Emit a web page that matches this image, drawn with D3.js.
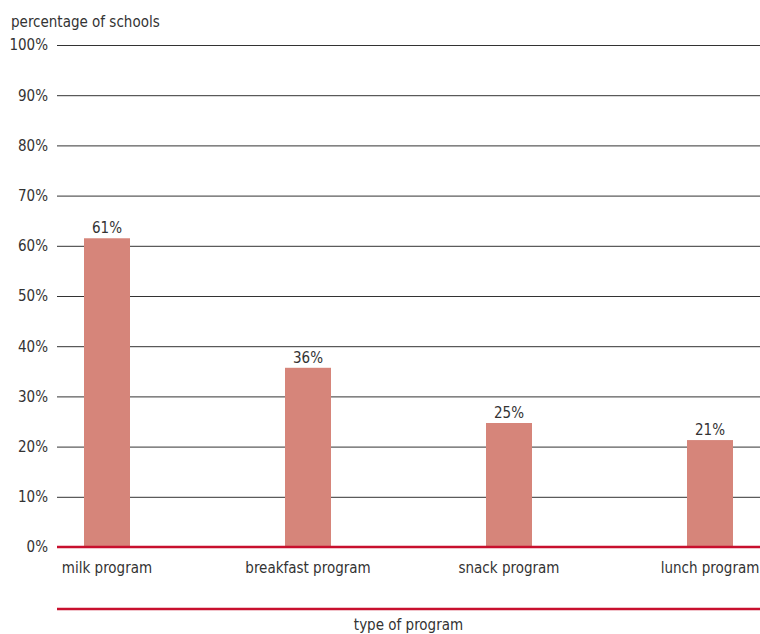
<!DOCTYPE html>
<html>
<head>
<meta charset="utf-8">
<script src="https://cdn.jsdelivr.net/npm/d3@7"></script>
<style>
  body { margin: 0; background: #fff; }
  text { font-family: 'DejaVu Sans Condensed', 'Liberation Sans Narrow', sans-serif; fill: #333; }
</style>
</head>
<body>
<svg id="chart"></svg>
<script>
const programs = ['milk program', 'breakfast program', 'snack program', 'lunch program'];
const shares = [61.5, 35.7, 24.7, 21.3];
const shareLabels = ['61%', '36%', '25%', '21%'];
const yTicks = [0, 10, 20, 30, 40, 50, 60, 70, 80, 90, 100];

const width = 760, height = 634;
const margin = {top: 45, right: 0, bottom: 87, left: 57};

const svg = d3.select('#chart')
    .attr('width', width)
    .attr('height', height);

const innerW = width - margin.left - margin.right;
const innerH = height - margin.top - margin.bottom;

const chart = svg.append('g')
    .attr('transform', `translate(${margin.left}, ${margin.top})`);

const xscale = d3.scalePoint()
    .domain(programs)
    .range([50, 653]);

const yscale = d3.scaleLinear()
    .domain([0, 100])
    .range([innerH, 0]);

const barW = 46;
const fs = '15px';

// gridlines + y labels
const yaxis = d3.axisLeft(yscale)
    .tickValues(yTicks)
    .tickSize(-innerW)
    .tickPadding(9)
    .tickFormat(d => d + '%');

const yg = chart.append('g').call(yaxis);
yg.select('.domain').remove();
yg.selectAll('.tick line').attr('stroke', '#333').attr('stroke-width', 1);
yg.selectAll('.tick text').style('font-size', fs).attr('fill', '#333');

// bars
const rows = programs.map((p, i) => ({p, v: shares[i], lab: shareLabels[i]}));

chart.append('g')
    .selectAll('rect')
    .data(rows)
    .join('rect')
    .attr('x', d => xscale(d.p) - barW / 2)
    .attr('y', d => yscale(d.v))
    .attr('width', barW)
    .attr('height', d => innerH - yscale(d.v))
    .attr('fill', '#d6857a');

chart.append('g')
    .selectAll('text')
    .data(rows)
    .join('text')
    .attr('x', d => xscale(d.p))
    .attr('y', d => yscale(d.v) - 5)
    .attr('text-anchor', 'middle')
    .style('font-size', fs)
    .text(d => d.lab);

// baseline
chart.append('line')
    .attr('x1', 0).attr('x2', innerW)
    .attr('y1', innerH).attr('y2', innerH)
    .attr('stroke', '#c8102e').attr('stroke-width', 2.5);

// x labels
chart.append('g')
    .selectAll('text')
    .data(programs)
    .join('text')
    .attr('x', d => xscale(d))
    .attr('y', innerH + 26)
    .attr('text-anchor', 'middle')
    .style('font-size', fs)
    .text(d => d);

// second red rule and axis title
chart.append('line')
    .attr('x1', 0).attr('x2', innerW)
    .attr('y1', innerH + 62).attr('y2', innerH + 62)
    .attr('stroke', '#c8102e').attr('stroke-width', 2.5);

svg.append('text')
    .attr('x', margin.left + innerW / 2)
    .attr('y', 630)
    .attr('text-anchor', 'middle')
    .style('font-size', fs)
    .text('type of program');

svg.append('text')
    .attr('x', 11)
    .attr('y', 27)
    .style('font-size', fs)
    .text('percentage of schools');
</script>
</body>
</html>
